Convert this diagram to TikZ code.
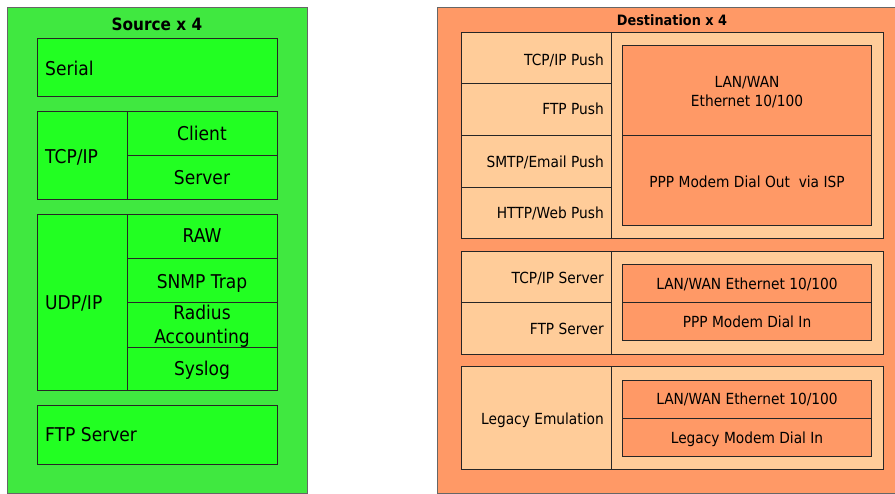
\documentclass[tikz,border=0pt]{standalone}
\usepackage{fontspec}
\setmainfont[FakeStretch=0.9]{DejaVu Sans}
\definecolor{gout}{HTML}{40E840}
\definecolor{gin}{HTML}{22FF22}
\definecolor{oout}{HTML}{FF9966}
\definecolor{olight}{HTML}{FFCC99}
\definecolor{oin}{HTML}{FF9966}
\tikzset{
  outerbox/.style={draw=black!60, line width=0.9pt},
  cellbox/.style={draw=black!85, line width=0.8pt},
  stxt/.style={font=\fontsize{19}{24}\selectfont, inner sep=0pt, text height=13.9pt, text depth=0pt},
  stxtm/.style={font=\fontsize{19}{24}\selectfont, inner sep=0pt, align=center},
  sttl/.style={font=\fontsize{17}{20}\selectfont\bfseries, inner sep=0pt, text height=12.4pt, text depth=0pt},
  dtxt/.style={font=\fontsize{15.3}{18.3}\selectfont, inner sep=0pt, text height=11.1pt, text depth=0pt},
  dtxtm/.style={font=\fontsize{15.3}{18.3}\selectfont, inner sep=0pt, align=center},
  dttl/.style={font=\fontsize{14.3}{17}\selectfont\bfseries, inner sep=0pt, text height=10.4pt, text depth=0pt},
}
\begin{document}
\begin{tikzpicture}[x=1pt,y=-1pt]
\useasboundingbox (0,0) rectangle (895,494);
% ---------------- Source ----------------
\draw[outerbox, fill=gout] (7,7) rectangle (307,493.5);
\node[sttl] (srctitle) at (157,24) {Source x 4};
\draw[cellbox, fill=gin] (37,38) rectangle (277,96);
\node[stxt, anchor=west] (serial) at (45,69) {Serial};
% TCP/IP
\draw[cellbox, fill=gin] (37,111) rectangle (127.3,199.7);
\draw[cellbox, fill=gin] (127.3,111) rectangle (277,155.3);
\draw[cellbox, fill=gin] (127.3,155.3) rectangle (277,199.7);
\node[stxt, anchor=west] (tcpip) at (45,156.5) {TCP/IP};
\node[stxt] (client) at (202,134) {Client};
\node[stxt] (server) at (202,177.5) {Server};
% UDP/IP
\draw[cellbox, fill=gin] (37,214.3) rectangle (127.3,390.7);
\draw[cellbox, fill=gin] (127.3,214.3) rectangle (277,258);
\draw[cellbox, fill=gin] (127.3,258) rectangle (277,302.3);
\draw[cellbox, fill=gin] (127.3,302.3) rectangle (277,347);
\draw[cellbox, fill=gin] (127.3,347) rectangle (277,390.7);
\node[stxt, anchor=west] (udpip) at (45,302.5) {UDP/IP};
\node[stxt] (raw) at (202,236) {RAW};
\node[stxt] (snmp) at (202,281.5) {SNMP Trap};
\node[stxtm] (radius) at (202,326.5) {Radius\\Accounting};
\node[stxt] (syslog) at (202,368.5) {Syslog};
% FTP
\draw[cellbox, fill=gin] (37,405.3) rectangle (277,464.3);
\node[stxt, anchor=west] (ftpsrv) at (45,435) {FTP Server};
% ---------------- Destination ----------------
\draw[outerbox, fill=oout] (437,7) rectangle (905,493.5);
\node[dttl] (dsttitle) at (672,20.5) {Destination x 4};
% Group 1
\draw[cellbox, fill=olight] (461.7,32.7) rectangle (883.3,238);
\draw[cellbox] (611,32.7) -- (611,238);
\draw[cellbox] (461.7,83.3) -- (611,83.3);
\draw[cellbox] (461.7,135.3) -- (611,135.3);
\draw[cellbox] (461.7,187) -- (611,187);
\draw[cellbox, fill=oin] (622.7,45.7) rectangle (871.3,135.3);
\draw[cellbox, fill=oin] (622.7,135.3) rectangle (871.3,225.3);
\node[dtxt, anchor=east] (tcppush) at (604,59.5) {TCP/IP Push};
\node[dtxt, anchor=east] (ftppush) at (604,109) {FTP Push};
\node[dtxt, anchor=east] (smtppush) at (604,162) {SMTP/Email Push};
\node[dtxt, anchor=east] (httppush) at (604,213) {HTTP/Web Push};
\node[dtxtm] (lanwan1) at (747,92) {LAN/WAN\\Ethernet 10/100};
\node[dtxt] (pppout) at (747,181.5) {PPP Modem Dial Out\ \ via ISP};
% Group 2
\draw[cellbox, fill=olight] (461.7,251.7) rectangle (883.3,354);
\draw[cellbox] (611,251.7) -- (611,354);
\draw[cellbox] (461.7,302.7) -- (611,302.7);
\draw[cellbox, fill=oin] (622.7,264) rectangle (871.3,302.7);
\draw[cellbox, fill=oin] (622.7,302.7) rectangle (871.3,340.7);
\node[dtxt, anchor=east] (tcpsrv) at (604,277.5) {TCP/IP Server};
\node[dtxt, anchor=east] (ftpsrv2) at (604,328.5) {FTP Server};
\node[dtxt] (lanwan2) at (747,284) {LAN/WAN Ethernet 10/100};
\node[dtxt] (pppin) at (747,321.5) {PPP Modem Dial In};
% Group 3
\draw[cellbox, fill=olight] (461.7,366.7) rectangle (883.3,469.3);
\draw[cellbox] (611,366.7) -- (611,469.3);
\draw[cellbox, fill=oin] (622.7,380) rectangle (871.3,418.7);
\draw[cellbox, fill=oin] (622.7,418.7) rectangle (871.3,456.7);
\node[dtxt, anchor=east] (legemu) at (604,419) {Legacy Emulation};
\node[dtxt] (lanwan3) at (747,399) {LAN/WAN Ethernet 10/100};
\node[dtxt] (legin) at (747,437.5) {Legacy Modem Dial In};
\end{tikzpicture}
\end{document}
